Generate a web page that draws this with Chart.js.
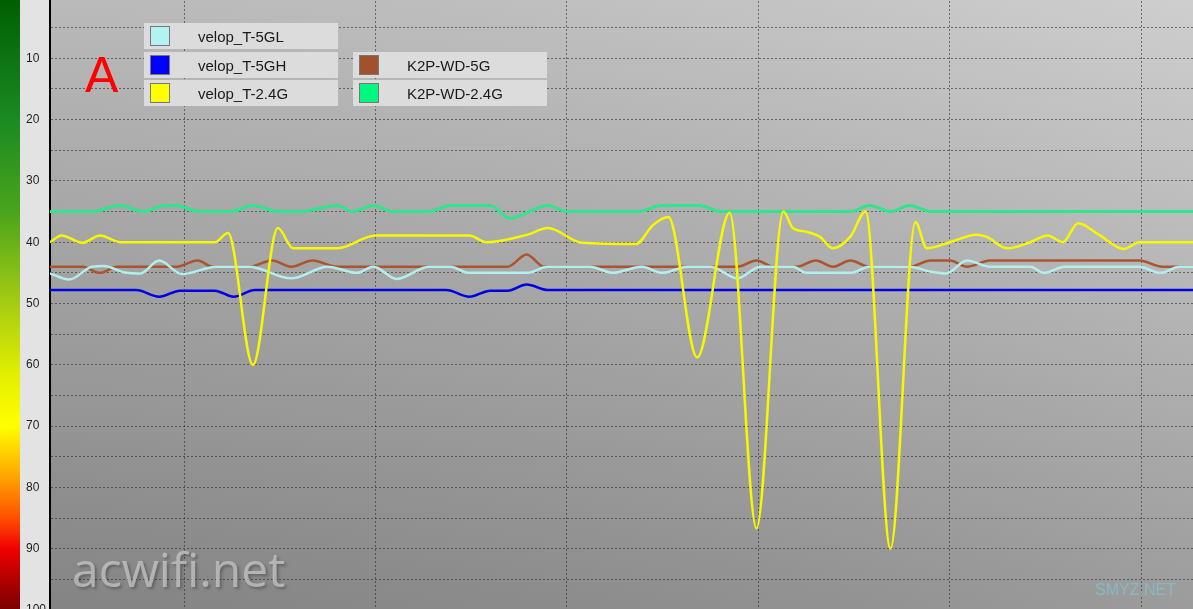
<!DOCTYPE html>
<html>
<head>
<meta charset="utf-8">
<script src="https://cdn.jsdelivr.net/npm/chart.js@4"></script>
<style>
    body { margin: 0; width: 1193px; height: 609px; overflow: hidden; position: relative; background: #a0a0a0; font-family: "Liberation Sans", Arial, sans-serif; }
    #chart { position: absolute; left: 0; top: -3px; }
    .row { position: absolute; width: 194px; height: 26px; background: #dcdcdc; }
    .sw { position: absolute; left: 6px; top: 3px; width: 18px; height: 18px; border: 1px solid #777; }
    .lbl { position: absolute; left: 54px; top: 0; line-height: 27px; font-size: 15px; color: #1a1a1a; white-space: nowrap; }
</style>
</head>
<body>
<canvas id="chart" width="1193" height="613"></canvas>
<div id="legend"></div>
<script>
// series names / colours, in legend order
const seriesNames = ['velop_T-5GL', 'velop_T-5GH', 'velop_T-2.4G', 'K2P-WD-5G', 'K2P-WD-2.4G'];
const lineColors = ['#b2eeee', '#0000e6', '#f7f700', '#a9552f', '#2ee68c'];
const swatchColors = ['#b4f2f2', '#0000ff', '#ffff00', '#a0522d', '#00f880'];

// time (s) and signal values
const velop5GLTime = [0, 1.0, 2.2, 2.8, 4.0, 4.7, 5.7, 6.9, 8.7, 10.4, 12.6, 14.5, 16.0, 16.9, 18.1, 19.8, 20.9, 21.9, 24.9, 26.0, 28.2, 29.4, 30.9, 32.0, 33.3, 34.5, 35.9, 37.1, 38.8, 39.5, 41.8, 42.8, 44.9, 46.0, 46.8, 47.9, 49.1, 51.2, 51.9, 53.0, 56.9, 58.0, 59.0, 61];
const velop5GLValue = [45.1, 46.1, 44, 43.9, 45, 45.1, 43, 45.2, 44, 44, 45.9, 44, 45, 44, 46, 44, 44, 45, 45, 44, 44, 45, 44, 45, 44, 44, 45.9, 44, 44, 45, 45, 44, 44, 44.8, 45.1, 43, 44, 44, 45, 44, 44, 45, 44, 44];

const velop5GHTime = [0, 4.5, 5.7, 6.8, 8.6, 9.6, 10.7, 20.7, 21.9, 23.0, 23.9, 24.9, 26.0, 61];
const velop5GHValue = [47.8, 47.8, 48.9, 47.9, 47.9, 48.9, 47.8, 47.8, 48.9, 47.9, 47.9, 46.9, 47.8, 47.8];

const velop24Time = [0, 0.6, 1.7, 2.6, 3.7, 8.6, 9.3, 10.6, 11.9, 12.7, 15.0, 17.0, 21.9, 22.8, 24.9, 26.0, 27.8, 30.6, 31.5, 32.3, 33.8, 35.5, 36.9, 38.3, 38.8, 39.5, 40.2, 40.9, 41.8, 42.6, 43.9, 45.2, 45.8, 47.0, 48.4, 48.9, 50.0, 51.2, 52.1, 52.9, 53.7, 54.8, 56.1, 56.9, 61];
const velop24Value = [40, 38.9, 40.1, 38.9, 40, 40, 38.5, 60, 37.7, 41, 41, 38.9, 38.9, 40, 38.8, 37.7, 40.1, 40.3, 37.2, 35.9, 58.8, 35.2, 86.7, 35, 37.7, 38.3, 39.1, 41, 39.1, 35, 90, 36.7, 41, 40, 38.8, 39.1, 41, 40, 38.9, 40, 36.9, 38.8, 41.1, 40, 40];

const k2p5Time = [0, 1.7, 2.6, 3.5, 6.6, 7.7, 8.5, 10.4, 11.6, 12.6, 13.7, 15.0, 23.9, 24.9, 25.8, 35.9, 36.9, 37.8, 39.0, 40.0, 40.9, 41.8, 42.8, 44.9, 46.0, 47.0, 47.9, 49.1, 56.9, 58.1, 61];
const k2p5Value = [44, 44, 45, 44, 44, 43, 44, 44, 43, 44, 43, 44, 44, 42, 44, 44, 43, 44, 44, 43, 44, 43, 44, 44, 43, 43, 44, 43, 43, 44, 44];

const k2p24Time = [0, 2.2, 3.6, 4.9, 6.0, 6.6, 7.8, 9.4, 10.6, 11.9, 13.1, 15.0, 15.8, 16.9, 17.9, 19.8, 20.9, 23.0, 24.0, 26.0, 27.0, 30.8, 31.9, 33.9, 35.0, 41.8, 42.8, 43.9, 44.9, 46.0, 61];
const k2p24Value = [35, 35, 34, 35, 34, 34, 35, 35, 34, 35, 35, 34, 35, 34, 35, 35, 34, 34, 36.1, 34, 35, 35, 34, 34, 35, 35, 34, 35, 34, 35, 35];

const gridTimes = [7, 17, 27, 37, 47, 57];
const yLabelStep = 10;

const times = [velop5GLTime, velop5GHTime, velop24Time, k2p5Time, k2p24Time];
const values = [velop5GLValue, velop5GHValue, velop24Value, k2p5Value, k2p24Value];
const drawOrder = [1, 3, 0, 4, 2]; // lower = on top
const widths = [2.5, 2.5, 2.5, 2.5, 3];

// legend boxes
const legendPos = [[144, 23], [144, 51.5], [144, 80], [353, 51.5], [353, 80]];
const legend = document.getElementById('legend');
seriesNames.forEach((name, i) => {
    const row = document.createElement('div');
    row.className = 'row';
    row.style.left = legendPos[i][0] + 'px';
    row.style.top = legendPos[i][1] + 'px';
    row.innerHTML = '<div class="sw" style="background:' + swatchColors[i] + '"></div><div class="lbl">' + name + '</div>';
    legend.append(row);
});

const backdrop = {
    id: 'backdrop',
    beforeDraw(chart) {
        const { ctx, chartArea: a, scales: { y } } = chart;
        ctx.save();
        const strip = ctx.createLinearGradient(0, y.getPixelForValue(0), 0, y.getPixelForValue(100));
        strip.addColorStop(0, '#005e00');
        strip.addColorStop(0.2, '#1a8a22');
        strip.addColorStop(0.35, '#4aa41c');
        strip.addColorStop(0.5, '#a6cc12');
        strip.addColorStop(0.62, '#e4f000');
        strip.addColorStop(0.7, '#ffff00');
        strip.addColorStop(0.78, '#ffa800');
        strip.addColorStop(0.85, '#ff5000');
        strip.addColorStop(0.9, '#f00000');
        strip.addColorStop(1, '#780000');
        ctx.fillStyle = strip;
        ctx.fillRect(0, 0, 20, chart.height);
        ctx.fillStyle = '#e3e3e3';
        ctx.fillRect(20, 0, a.left - 20, chart.height);

        const bg = ctx.createLinearGradient(0, a.top, 0, a.bottom);
        bg.addColorStop(0, '#c8c8c8');
        bg.addColorStop(1, '#8e8e8e');
        ctx.fillStyle = bg;
        ctx.fillRect(a.left, a.top, a.right - a.left, a.bottom - a.top);
        const side = ctx.createLinearGradient(a.left, 0, a.right, 0);
        side.addColorStop(0, 'rgba(0,0,0,0.07)');
        side.addColorStop(1, 'rgba(255,255,255,0.12)');
        ctx.fillStyle = side;
        ctx.fillRect(a.left, a.top, a.right - a.left, a.bottom - a.top);
        ctx.restore();
    },
    afterDraw(chart) {
        const ctx = chart.ctx;
        ctx.save();
        ctx.fillStyle = '#ff0000';
        ctx.font = '50px "Liberation Sans", Arial, sans-serif';
        ctx.fillText('A', 85, 95);

        ctx.font = '48px "Open Sans", sans-serif';
        ctx.shadowColor = 'rgba(0,0,0,0.35)';
        ctx.shadowOffsetX = 2;
        ctx.shadowOffsetY = 2;
        ctx.shadowBlur = 3;
        ctx.fillStyle = 'rgba(195,195,195,0.8)';
        ctx.fillText('acwifi.net', 72, 590);

        ctx.shadowColor = 'transparent';
        ctx.font = '16px "Liberation Sans", Arial, sans-serif';
        ctx.fillStyle = 'rgba(125,200,212,0.7)';
        ctx.fillText('SMYZ.NET', 1095, 598);
        ctx.restore();
    }
};

const gridColor = 'rgba(45,45,45,0.6)';

new Chart(document.getElementById('chart'), {
    type: 'line',
    data: {
        datasets: seriesNames.map((name, i) => ({
            label: name,
            data: times[i].map((t, k) => ({ x: t, y: values[i][k] })),
            borderColor: lineColors[i],
            borderWidth: widths[i],
            pointRadius: 0,
            cubicInterpolationMode: 'monotone',
            order: drawOrder[i]
        }))
    },
    options: {
        responsive: false,
        animation: false,
        layout: { padding: { left: 26, top: 0, right: 0, bottom: 0 } },
        plugins: { legend: { display: false }, tooltip: { enabled: false } },
        scales: {
            x: {
                type: 'linear',
                min: 0,
                max: 59.7,
                afterBuildTicks: (scale) => { scale.ticks = gridTimes.map(v => ({ value: v })); },
                afterFit: (scale) => { scale.height = 0; scale.paddingLeft = 0; scale.paddingRight = 0; },
                ticks: { display: false },
                grid: { color: gridColor, lineWidth: 1, drawTicks: false },
                border: { display: false, dash: [2, 2] }
            },
            y: {
                reverse: true,
                min: 0,
                max: 100,
                afterFit: (scale) => { scale.width = 24; scale.paddingTop = 0; scale.paddingBottom = 0; },
                ticks: {
                    stepSize: 5,
                    autoSkip: false,
                    padding: 0,
                    crossAlign: 'far',
                    color: '#1e1e1e',
                    font: { family: '"Liberation Sans", Arial, sans-serif', size: 12 },
                    callback: (v) => (v % yLabelStep === 0 ? v : '')
                },
                grid: { color: gridColor, lineWidth: 1, drawTicks: false },
                border: { display: true, color: '#000', width: 2, dash: [2, 2] }
            }
        }
    },
    plugins: [backdrop]
});
</script>
</body>
</html>
